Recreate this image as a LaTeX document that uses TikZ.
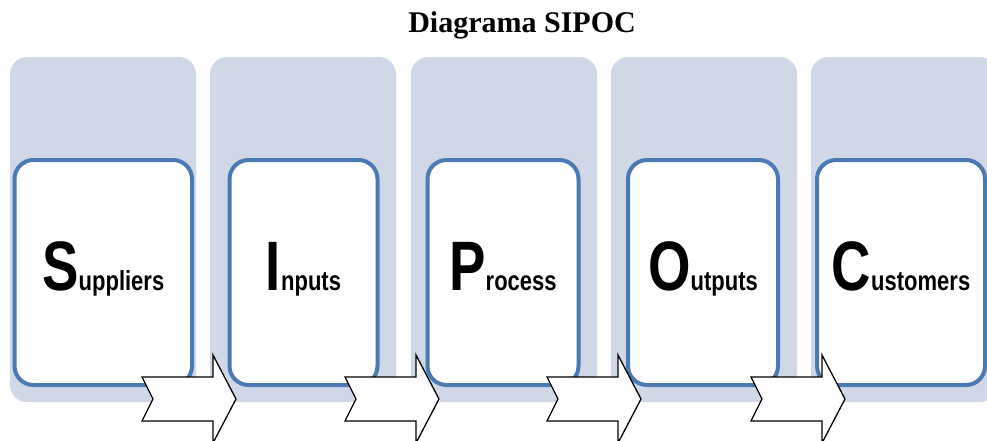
\documentclass[tikz,border=0pt]{standalone}
\usepackage{fontspec}
\setmainfont{Liberation Serif}
\newfontfamily\condfont[FakeStretch=0.78]{Liberation Sans}
\newfontfamily\condsmall[FakeStretch=0.8]{Liberation Sans}
\definecolor{panelfill}{RGB}{208,216,232}
\definecolor{boxline}{RGB}{74,122,180}
\tikzset{
  panel/.style={rectangle, fill=panelfill, rounded corners=17pt, inner sep=0pt, minimum height=345pt},
  inbox/.style={rectangle, draw=boxline, line width=4pt, fill=white, rounded corners=19pt, inner sep=0pt, minimum height=225pt},
  lbl/.style={inner sep=0pt, anchor=base, font=\bfseries},
  sarrow/.pic={\draw[line width=1.3pt, fill=white, line join=miter] (0,0) -- (11,22) -- (0,44) -- (71,44) -- (71,66) -- (94,22) -- (71,-22) -- (71,0) -- cycle;}
}
\newcommand{\biglet}[1]{{\condfont\bfseries\fontsize{70}{70}\selectfont #1}}
\newcommand{\smalltxt}[1]{{\condsmall\bfseries\fontsize{27.5}{27.5}\selectfont #1}}
\begin{document}
\begin{tikzpicture}[x=1pt,y=-1pt]
\useasboundingbox (0,0) rectangle (987,440);
\clip (0,0) rectangle (987,440);
\node[font=\bfseries\fontsize{30}{30}\selectfont, anchor=base, inner sep=0pt] (title) at (522,32) {Diagrama SIPOC};
% panels
\node[panel, minimum width=186pt] (p1) at (103,229.5) {};
\node[panel, minimum width=186pt] (p2) at (303,229.5) {};
\node[panel, minimum width=186pt] (p3) at (504,229.5) {};
\node[panel, minimum width=186pt] (p4) at (704,229.5) {};
\node[panel, minimum width=186pt] (p5) at (904,229.5) {};
% inner boxes
\node[inbox, minimum width=177.5pt] (b1) at (103.25,272.5) {};
\node[inbox, minimum width=148pt] (b2) at (303.5,272.5) {};
\node[inbox, minimum width=151pt] (b3) at (503,272.5) {};
\node[inbox, minimum width=150pt] (b4) at (703,272.5) {};
\node[inbox, minimum width=168pt] (b5) at (901,272.5) {};
% labels
\node[lbl] (t1) at ([yshift=-17.5pt]b1.center) {\biglet{S}\smalltxt{uppliers}};
\node[lbl] (t2) at ([yshift=-17.5pt]b2.center) {\biglet{I}\smalltxt{nputs}};
\node[lbl] (t3) at ([yshift=-17.5pt]b3.center) {\biglet{P}\smalltxt{rocess}};
\node[lbl] (t4) at ([yshift=-17.5pt]b4.center) {\biglet{O}\smalltxt{utputs}};
\node[lbl] (t5) at ([yshift=-17.5pt]b5.center) {\biglet{C}\smalltxt{ustomers}};
% arrows
\coordinate (a1) at (142,377);
\coordinate (a2) at (345,377);
\coordinate (a3) at (547,377);
\coordinate (a4) at (751,377);
\pic at (a1) {sarrow};
\pic at (a2) {sarrow};
\pic at (a3) {sarrow};
\pic at (a4) {sarrow};
\end{tikzpicture}
\end{document}
